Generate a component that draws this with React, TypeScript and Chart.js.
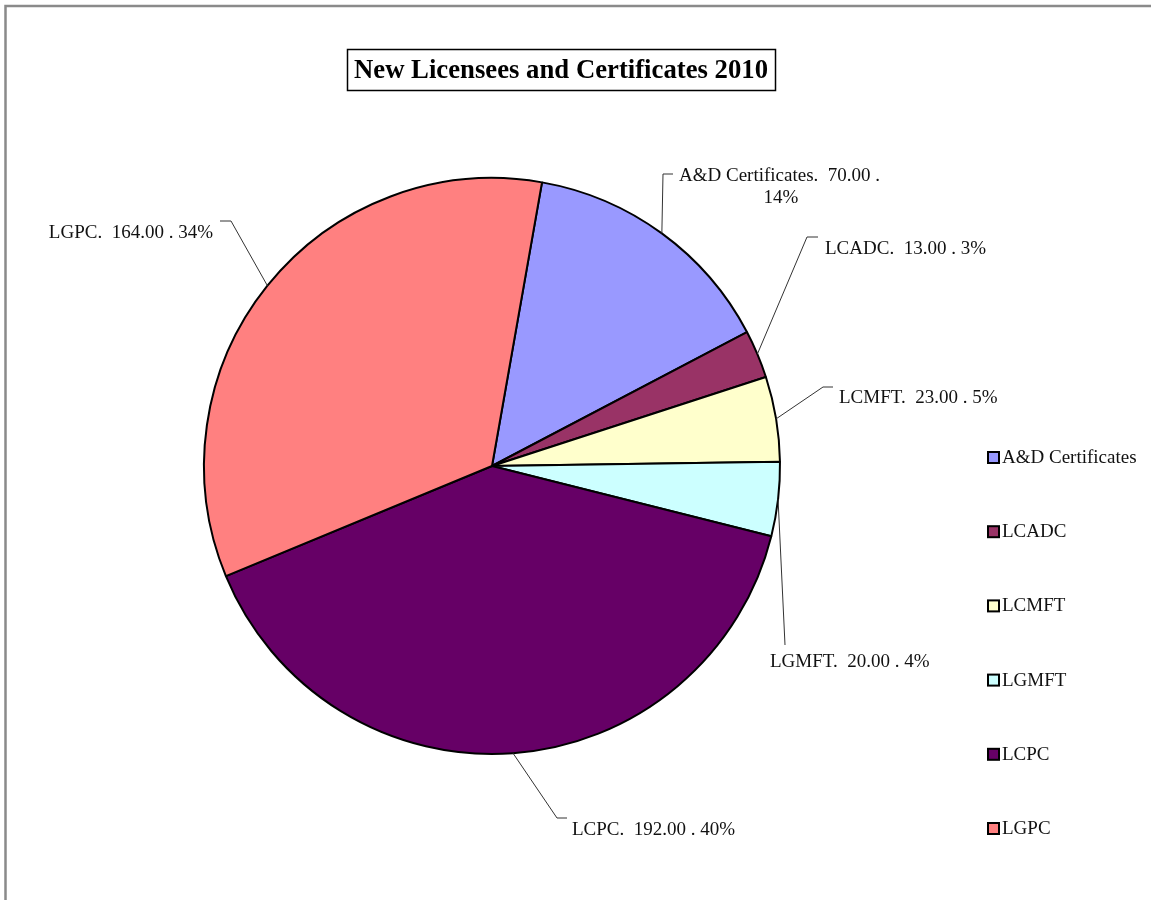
import React, { useEffect, useRef } from "react";
import { Chart, registerables } from "chart.js";

Chart.register(...registerables);

const TITLE = "New Licensees and Certificates 2010";
const categories = ["A&D Certificates", "LCADC", "LCMFT", "LGMFT", "LCPC", "LGPC"];
const values = [70, 13, 23, 20, 192, 164];
const percentLabels = ["14%", "3%", "5%", "4%", "40%", "34%"];
const colors = ["#9999FF", "#993366", "#FFFFCC", "#CCFFFF", "#660066", "#FF8080"];

const W = 1151;
const H = 900;
const SERIF = '"Liberation Serif", "Times New Roman", serif';

// label placement (layout only): leader bend points and text anchors
type Line = { x: number; y: number; align: CanvasTextAlign };
type LabelLayout = { path: number[][]; lines: Line[] };
const labelLayout: LabelLayout[] = [
  { path: [[663, 174], [673, 174]], lines: [{ x: 679, y: 176, align: "left" }, { x: 781, y: 198, align: "center" }] },
  { path: [[807, 237], [818, 237]], lines: [{ x: 825, y: 249, align: "left" }] },
  { path: [[823, 387], [833, 387]], lines: [{ x: 839, y: 398, align: "left" }] },
  { path: [[785, 645]], lines: [{ x: 770, y: 662, align: "left" }] },
  { path: [[557, 818], [567, 818]], lines: [{ x: 572, y: 830, align: "left" }] },
  { path: [[231, 221], [220, 221]], lines: [{ x: 213, y: 233, align: "right" }] },
];

const decorPlugin = {
  id: "decor",
  beforeDraw(chart: any) {
    const ctx = chart.ctx as CanvasRenderingContext2D;
    ctx.save();
    ctx.fillStyle = "#ffffff";
    ctx.fillRect(0, 0, W, H);
    // frame
    ctx.strokeStyle = "#8a8a8a";
    ctx.lineWidth = 2.5;
    ctx.beginPath();
    ctx.moveTo(5.5, H);
    ctx.lineTo(5.5, 6);
    ctx.lineTo(W, 6);
    ctx.stroke();
    // title
    ctx.font = `bold 27px ${SERIF}`;
    ctx.fillStyle = "#000";
    ctx.textAlign = "center";
    ctx.textBaseline = "middle";
    ctx.fillText(TITLE, 561, 71, 414);
    ctx.lineWidth = 1.5;
    ctx.strokeStyle = "#000";
    ctx.strokeRect(347.5, 49.5, 428, 41);
    ctx.restore();
  },
  afterDraw(chart: any) {
    const ctx = chart.ctx as CanvasRenderingContext2D;
    const meta = chart.getDatasetMeta(0);
    ctx.save();
    // leaders and labels
    meta.data.forEach((arc: any, i: number) => {
      const p = arc.getProps(["x", "y", "startAngle", "endAngle", "outerRadius"], true);
      const mid = (p.startAngle + p.endAngle) / 2;
      const sx = p.x + Math.cos(mid) * p.outerRadius;
      const sy = p.y + Math.sin(mid) * p.outerRadius;
      const lay = labelLayout[i];
      ctx.strokeStyle = "#333";
      ctx.lineWidth = 1;
      ctx.beginPath();
      ctx.moveTo(sx, sy);
      lay.path.forEach((pt) => ctx.lineTo(pt[0], pt[1]));
      ctx.stroke();
      const full = `${categories[i]}.  ${values[i].toFixed(2)} . ${percentLabels[i]}`;
      const texts =
        lay.lines.length > 1
          ? [`${categories[i]}.  ${values[i].toFixed(2)} .`, percentLabels[i]]
          : [full];
      ctx.font = `19px ${SERIF}`;
      ctx.fillStyle = "#111";
      ctx.textBaseline = "middle";
      texts.forEach((t, k) => {
        const ln = lay.lines[k];
        ctx.textAlign = ln.align;
        ctx.fillText(t, ln.x, ln.y);
      });
    });
    // legend
    const lx = 988;
    const ly0 = 457;
    const step = 74.2;
    categories.forEach((c, i) => {
      const cy = ly0 + i * step;
      ctx.fillStyle = colors[i];
      ctx.fillRect(lx, cy - 5, 11, 11);
      ctx.strokeStyle = "#000";
      ctx.lineWidth = 2;
      ctx.strokeRect(lx, cy - 5, 11, 11);
      ctx.fillStyle = "#111";
      ctx.font = `19px ${SERIF}`;
      ctx.textAlign = "left";
      ctx.textBaseline = "middle";
      ctx.fillText(c, lx + 14, cy + 1);
    });
    ctx.restore();
  },
};

export default function App() {
  const ref = useRef<HTMLCanvasElement | null>(null);
  useEffect(() => {
    if (!ref.current) return;
    const chart = new Chart(ref.current, {
      type: "pie",
      data: {
        labels: categories,
        datasets: [
          {
            data: values,
            backgroundColor: colors,
            borderColor: "#000",
            borderWidth: 2,
          },
        ],
      },
      options: {
        responsive: false,
        animation: false,
        devicePixelRatio: 1,
        rotation: 10,
        layout: { padding: { left: 203, right: 370, top: 177, bottom: 145 } },
        plugins: {
          legend: { display: false },
          tooltip: { enabled: false },
          title: { display: false },
        },
      },
      plugins: [decorPlugin],
    } as any);
    return () => chart.destroy();
  }, []);
  return (
    <div style={{ position: "absolute", left: 0, top: 0, width: W, height: H, background: "#fff" }}>
      <canvas ref={ref} width={W} height={H} style={{ display: "block", width: W, height: H }} />
    </div>
  );
}
